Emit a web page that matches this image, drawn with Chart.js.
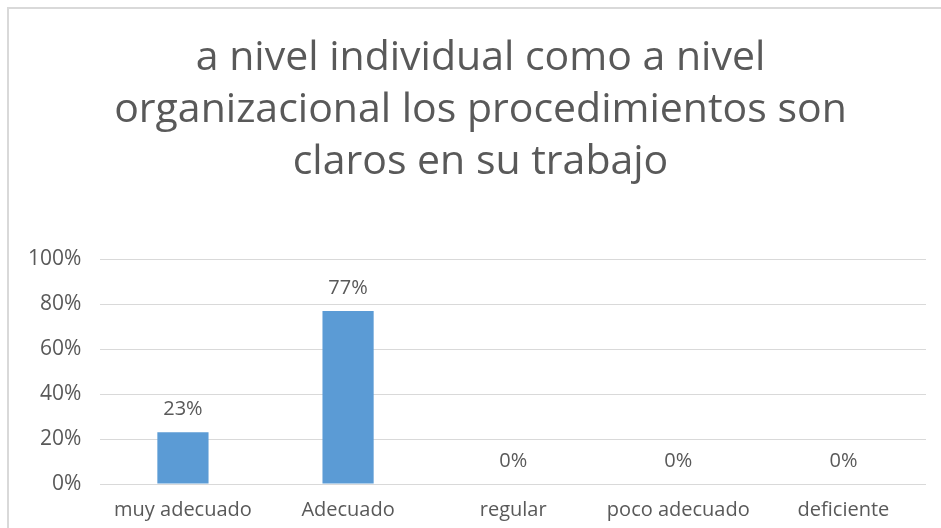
<!DOCTYPE html>
<html>
<head>
<meta charset="utf-8">
<script src="https://cdn.jsdelivr.net/npm/chart.js@4.4.1/dist/chart.umd.min.js"></script>
<style>
	body { margin: 0; background: #fff; overflow: hidden; }
	#wrap {
		position: absolute; left: 7px; top: 7px;
		width: 932px; height: 527px;
		border-top: 2px solid #d9d9d9;
		border-left: 2px solid #d9d9d9;
	}
</style>
</head>
<body>
<div id="wrap"><canvas id="chart"></canvas></div>
<script>
var categories = ["muy adecuado", "Adecuado", "regular", "poco adecuado", "deficiente"];
var values = [23, 77, 0, 0, 0];
var yTicks = [0, 20, 40, 60, 80, 100];
var titleLines = ["a nivel individual como a nivel", "organizacional los procedimientos son", "claros en su trabajo"];

// labels over the bars, like the data labels in the original
var barLabels = {
	id: "barLabels",
	afterLayout: function(chart) {
		// title sits a bit right of the canvas centre in the original
		chart.titleBlock.left += 13;
		chart.titleBlock.right += 13;
	},
	afterDatasetsDraw: function(chart) {
		var ctx = chart.ctx;
		var meta = chart.getDatasetMeta(0);
		ctx.save();
		ctx.font = "20px 'Open Sans'";
		ctx.fillStyle = "#595959";
		ctx.textAlign = "center";
		ctx.textBaseline = "bottom";
		meta.data.forEach(function(bar, i) {
			ctx.fillText(values[i] + "%", bar.x, bar.y - 13);
		});
		ctx.restore();
	}
};

var ctx = document.getElementById("chart");

var data = {
	labels: categories,
	datasets: [
		{
			label: "serie",
			data: values,
			backgroundColor: "#5b9bd5",
			borderWidth: 0,
			barPercentage: 0.31,
			categoryPercentage: 1
		}
	]
};

var options = {
	responsive: true,
	maintainAspectRatio: false,
	animation: false,
	layout: {
		padding: { left: 0, right: 15, top: 0, bottom: 0 }
	},
	plugins: {
		legend: { display: false },
		tooltip: { enabled: false },
		title: {
			display: true,
			text: titleLines,
			color: "#595959",
			font: { family: "'Open Sans'", size: 41, weight: "normal", lineHeight: 1.27 },
			padding: { top: 23, bottom: 71 }
		}
	},
	scales: {
		x: {
			grid: { display: false, drawTicks: false },
			border: { display: false },
			ticks: {
				color: "#595959",
				font: { family: "'Open Sans'", size: 20 },
				padding: 14,
				maxRotation: 0
			}
		},
		y: {
			min: 0,
			max: 100,
			afterBuildTicks: function(axis) {
				axis.ticks = yTicks.map(function(v) { return { value: v }; });
			},
			grid: { color: "#d9d9d9", lineWidth: 1, drawTicks: false },
			border: { display: false },
			ticks: {
				color: "#595959",
				font: { family: "'Open Sans'", size: 21 },
				padding: 19,
				callback: function(v) { return v + "%"; }
			}
		}
	}
};

var chart = new Chart(ctx, {
	type: "bar",
	data: data,
	options: options,
	plugins: [barLabels]
});
</script>
</body>
</html>
